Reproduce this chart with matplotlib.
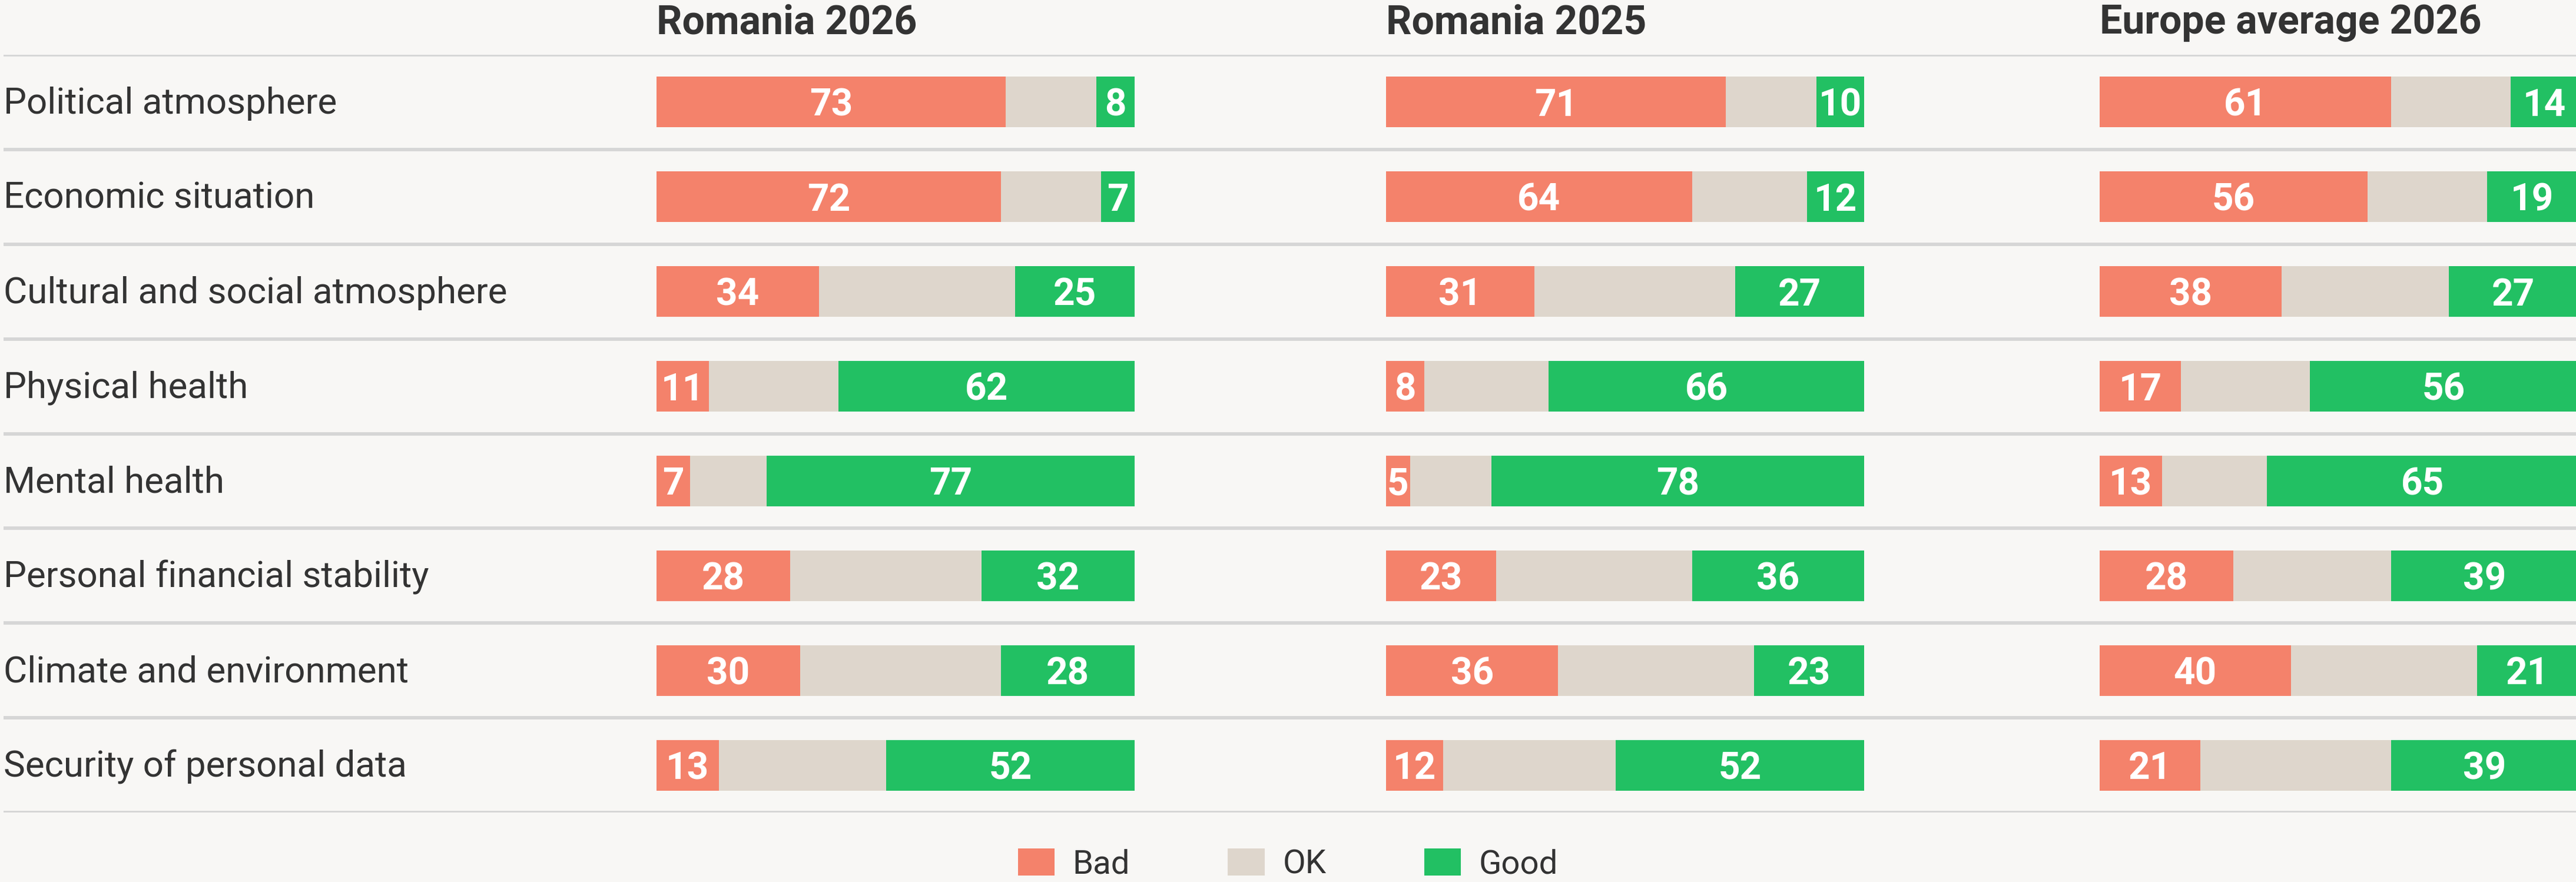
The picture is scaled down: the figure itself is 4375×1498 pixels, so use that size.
import matplotlib
matplotlib.use("Agg")
import matplotlib.pyplot as plt
from matplotlib.patches import Patch

categories = [
    "Political atmosphere",
    "Economic situation",
    "Cultural and social atmosphere",
    "Physical health",
    "Mental health",
    "Personal financial stability",
    "Climate and environment",
    "Security of personal data",
]
panel_titles = ["Romania 2026", "Romania 2025", "Europe average 2026"]
bad = [
    [73, 72, 34, 11, 7, 28, 30, 13],
    [71, 64, 31, 8, 5, 23, 36, 12],
    [61, 56, 38, 17, 13, 28, 40, 21],
]
good = [
    [8, 7, 25, 62, 77, 32, 28, 52],
    [10, 12, 27, 66, 78, 36, 23, 52],
    [14, 19, 27, 56, 65, 39, 21, 39],
]
ok = [[100 - b - g for b, g in zip(bb, gg)] for bb, gg in zip(bad, good)]
legend_labels = ["Bad", "OK", "Good"]

BG = "#F8F7F5"
RED = "#F4826B"
BEIGE = "#DED6CC"
GREEN = "#22C063"
TXT = "#333333"
SEP = "#D6D6D6"
FONT = "Roboto"

W, H, DPI = 4375, 1498, 200
fig = plt.figure(figsize=(W / DPI, H / DPI), dpi=DPI, facecolor=BG)

top_px, bot_px = 93, 1380
ax_bottom = 1 - bot_px / H
ax_height = (bot_px - top_px) / H
n = len(categories)

# background axes for separators and row labels
bg = fig.add_axes([6 / W, ax_bottom, 1 - 6 / W, ax_height])
bg.set_xlim(0, 1)
bg.set_ylim(n, 0)
bg.axis("off")
for k in range(n + 1):
    bg.axhline(k, color=SEP, lw=2.1, zorder=0)
for i, c in enumerate(categories):
    bg.text(0.0, i + 0.5 + 0.121, c, ha="left", va="baseline",
            fontsize=22.3, color=TXT, family=FONT)

panel_left_px = [1115, 2354, 3566]
panel_w_px = 812
for p in range(3):
    ax = fig.add_axes([panel_left_px[p] / W, ax_bottom, panel_w_px / W, ax_height])
    ax.set_xlim(0, 100)
    ax.set_ylim(n, 0)
    ax.axis("off")
    ys = [i + 0.5 for i in range(n)]
    lefts = [0] * n
    for vals, col in ((bad[p], RED), (ok[p], BEIGE), (good[p], GREEN)):
        ax.barh(ys, vals, left=lefts, height=0.534, color=col, edgecolor="none", zorder=2)
        lefts = [l + v for l, v in zip(lefts, vals)]
    for i in range(n):
        b, o, g = bad[p][i], ok[p][i], good[p][i]
        ax.text(b / 2, i + 0.5 + 0.146, str(b), ha="center", va="baseline",
                fontsize=23, color="white", fontweight="bold", family=FONT, zorder=3)
        ax.text(b + o + g / 2, i + 0.5 + 0.146, str(g), ha="center", va="baseline",
                fontsize=23, color="white", fontweight="bold", family=FONT, zorder=3)
    ax.text(0, 1 + 36 / (ax_height * H), panel_titles[p], transform=ax.transAxes,
            ha="left", va="baseline", fontsize=24.5, fontweight="bold", color=TXT,
            family=FONT)

handles = [Patch(facecolor=c, edgecolor="none") for c in (RED, BEIGE, GREEN)]
leg = fig.legend(handles, legend_labels, loc="center", ncol=3,
                 bbox_to_anchor=(0.5, 1 - 1468 / H), frameon=False,
                 prop={"family": FONT, "size": 20.3},
                 handlelength=1.1, handleheight=0.86, handletextpad=0.55,
                 columnspacing=2.95, borderpad=0, borderaxespad=0)
for t in leg.get_texts():
    t.set_color(TXT)

fig.savefig("out.png", dpi=DPI, facecolor=BG)
